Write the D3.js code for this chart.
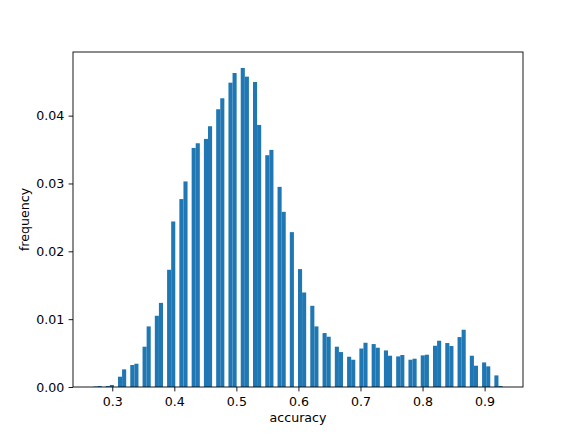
<!DOCTYPE html>
<html>
<head>
<meta charset="utf-8">
<script src="https://cdn.jsdelivr.net/npm/d3@7"></script>
<style>
  html, body { margin: 0; padding: 0; background: #fff; }
  svg { display: block; }
  text { font-family: "DejaVu Sans", sans-serif; fill: #000; }
</style>
</head>
<body>
<svg id="chart" width="581" height="436"></svg>
<script>
// ---- data ----
const dataMin = 0.2697;   // histogram range (data min / max)
const dataMax = 0.9289;
const binCount = 100;
// frequency (density) of each of the 100 bins, left to right
const frequency = [
  0.00007, 0.00015, 0, 0.00015, 0.0003, 0, 0.00152, 0.0026, 0, 0.00324,
  0.00343, 0, 0.00594, 0.00893, 0, 0.0105, 0.0124, 0, 0.01728, 0.0244,
  0, 0.0277, 0.0303, 0, 0.03524, 0.03593, 0, 0.03657, 0.03844, 0,
  0.04094, 0.04256, 0, 0.04486, 0.04629, 0, 0.04703, 0.04575, 0, 0.04496,
  0.03863, 0, 0.03417, 0.03495, 0, 0.0295, 0.02582, 0, 0.02283, 0,
  0.01738, 0.01393, 0, 0.01197, 0.00893, 0, 0.00795, 0.00741, 0, 0.00594,
  0.00515, 0, 0.00446, 0.00402, 0, 0.00567, 0.00652, 0, 0.00633, 0.00579,
  0, 0.00539, 0.00461, 0, 0.00451, 0.00471, 0, 0.00402, 0.00417, 0,
  0.00466, 0.00476, 0, 0.00608, 0.00682, 0, 0.00648, 0.00604, 0, 0.00736,
  0.00844, 0, 0.00461, 0.00314, 0, 0.00362, 0.00304, 0, 0.00171, 0.00015
];
const xTicks = [0.3, 0.4, 0.5, 0.6, 0.7, 0.8, 0.9];
const yTicks = [0.00, 0.01, 0.02, 0.03, 0.04];
const xLabel = "accuracy";
const yLabel = "frequency";

// ---- layout ----
const W = 581, H = 436;
const margin = { left: 73, right: 58, top: 52, bottom: 49 };
const plotL = margin.left, plotR = W - margin.right;
const plotT = margin.top, plotB = H - margin.bottom;

const svg = d3.select("#chart");

const binW = (dataMax - dataMin) / binCount;
const bins = frequency.map((v, i) => ({
  x0: dataMin + i * binW,
  x1: dataMin + (i + 1) * binW,
  v
}));

const span = dataMax - dataMin;
const x = d3.scaleLinear()
  .domain([dataMin - 0.05 * span, dataMax + 0.05 * span])
  .range([plotL, plotR]);
const yMax = d3.max(frequency) * 1.05;
const y = d3.scaleLinear().domain([0, yMax]).range([plotB, plotT]);

// bars
svg.append("g")
  .selectAll("rect")
  .data(bins.filter(d => d.v > 0))
  .join("rect")
  .attr("x", d => x(d.x0))
  .attr("width", d => x(d.x1) - x(d.x0))
  .attr("y", d => y(d.v))
  .attr("height", d => y(0) - y(d.v))
  .attr("fill", "#1f77b4");

// axes
const fontSize = "12.6px";
const xAxis = svg.append("g")
  .attr("transform", `translate(0,${plotB})`)
  .call(d3.axisBottom(x).tickValues(xTicks).tickFormat(d3.format(".1f"))
    .tickSize(4.4).tickPadding(5.3));
const yAxis = svg.append("g")
  .attr("transform", `translate(${plotL},0)`)
  .call(d3.axisLeft(y).tickValues(yTicks).tickFormat(d3.format(".2f"))
    .tickSize(4.4).tickPadding(4.4));

[xAxis, yAxis].forEach(g => {
  g.select(".domain").remove();
  g.selectAll(".tick line").attr("stroke", "#000").attr("stroke-width", 0.9);
  g.selectAll(".tick text")
    .attr("font-family", "DejaVu Sans, sans-serif")
    .attr("font-size", fontSize)
    .attr("fill", "#000");
});

// frame (spines)
svg.append("rect")
  .attr("x", plotL).attr("y", plotT)
  .attr("width", plotR - plotL).attr("height", plotB - plotT)
  .attr("fill", "none").attr("stroke", "#000").attr("stroke-width", 0.9);

// axis labels
svg.append("text")
  .attr("x", (plotL + plotR) / 2).attr("y", 421.5)
  .attr("text-anchor", "middle")
  .attr("font-size", fontSize)
  .text(xLabel);
svg.append("text")
  .attr("transform", `translate(28.5,${(plotT + plotB) / 2}) rotate(-90)`)
  .attr("text-anchor", "middle")
  .attr("font-size", fontSize)
  .text(yLabel);
</script>
</body>
</html>
